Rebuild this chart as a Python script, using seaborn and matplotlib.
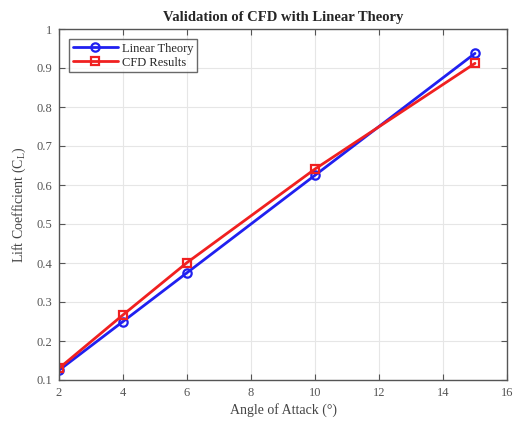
import matplotlib
matplotlib.use("Agg")
import matplotlib.pyplot as plt
import seaborn as sns
import pandas as pd

angles = [2, 4, 6, 10, 15]
linear_theory = [0.125, 0.25, 0.375, 0.625, 0.9375]
cfd_results = [0.13, 0.267, 0.401, 0.641, 0.912]

x_ticks = [2, 4, 6, 8, 10, 12, 14, 16]
y_ticks = [0.1, 0.2, 0.3, 0.4, 0.5, 0.6, 0.7, 0.8, 0.9, 1.0]
y_tick_labels = ["0.1", "0.2", "0.3", "0.4", "0.5", "0.6", "0.7", "0.8", "0.9", "1"]

sns.set_theme(style="whitegrid")
plt.rcParams['font.family'] = ['Liberation Serif', 'DejaVu Serif']

df = pd.DataFrame({
    "angle": angles * 2,
    "cl": linear_theory + cfd_results,
    "series": ["Linear Theory"] * len(angles) + ["CFD Results"] * len(angles),
})

fig = plt.figure(figsize=(5.15, 4.21), dpi=100)
ax = fig.add_axes([59/515, 41/421, 448/515, 351/421])

palette = {"Linear Theory": "#2020f0", "CFD Results": "#f02020"}
markers = {"Linear Theory": "o", "CFD Results": "s"}
sns.lineplot(data=df, x="angle", y="cl", hue="series", style="series",
             palette=palette, markers=markers, dashes=False, linewidth=2,
             markersize=6, markerfacecolor="none", markeredgewidth=1.6, ax=ax)
for line in ax.lines:
    line.set_markerfacecolor("none")
    line.set_markeredgecolor(line.get_color())

ax.set_xlim(2, 16)
ax.set_ylim(0.1, 1.0)
ax.set_xticks(x_ticks)
ax.set_xticklabels([str(t) for t in x_ticks])
ax.set_yticks(y_ticks)
ax.set_yticklabels(y_tick_labels)
ax.grid(True, color="#e6e6e6", linewidth=0.8)
ax.set_facecolor("white")
for s in ax.spines.values():
    s.set_color("#555555")
    s.set_linewidth(1.0)
    s.set_visible(True)
ax.tick_params(axis="both", direction="in", length=4, width=0.8, color="#555555",
               labelsize=9, labelcolor="#555555", top=True, right=True,
               bottom=True, left=True, pad=5)

ax.set_title("Validation of CFD with Linear Theory", fontsize=10.5, fontweight="bold", pad=6)
ax.set_xlabel("Angle of Attack (°)", fontsize=10, color="#444444", labelpad=3)
ax.set_ylabel("Lift Coefficient (C$_\\mathregular{L}$)", fontsize=10, color="#444444", labelpad=6)

leg = ax.legend(loc="upper left", fontsize=9, frameon=True, fancybox=False,
                edgecolor="#444444", handlelength=3.6, borderpad=0.3, labelspacing=0.15,
                handletextpad=0.3, borderaxespad=0.8)
leg.get_frame().set_linewidth(1.0)
for h in leg.get_lines():
    h.set_markerfacecolor("none")
    h.set_linewidth(2)

fig.savefig("out.png", dpi=100, facecolor="white")
